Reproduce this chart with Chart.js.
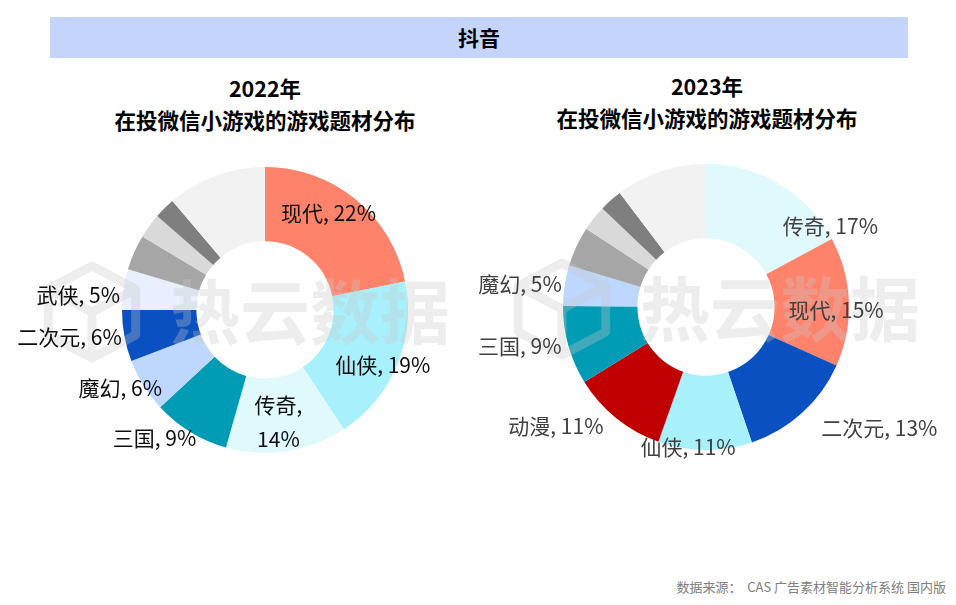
<!DOCTYPE html>
<html>
<head>
<meta charset="utf-8">
<script src="https://cdn.jsdelivr.net/npm/chart.js@4"></script>
<style>
    body { margin: 0; width: 956px; height: 605px; background: #fff; position: relative; overflow: hidden;
           font-family: "Noto Sans CJK SC", "Noto Sans", sans-serif; }
    .top-bar { position: absolute; left: 50px; top: 17px; width: 858px; height: 41px; background: #c5d4fb;
               text-align: center; line-height: 41px; font-size: 21px; font-weight: 700; color: #000; }
    .chart-title { position: absolute; width: 478px; text-align: center; font-size: 21.5px; font-weight: 700;
                   color: #000; line-height: 32px; }
    .chart-box { position: absolute; top: 140px; width: 478px; height: 340px; }
    .source { position: absolute; right: 10px; top: 577px; font-size: 13px; color: #808080; }
</style>
</head>
<body>
<div class="top-bar">抖音</div>
<div class="chart-title" style="left:26px; top:72px;">2022年<br>在投微信小游戏的游戏题材分布</div>
<div class="chart-title" style="left:468px; top:70px;">2023年<br>在投微信小游戏的游戏题材分布</div>
<div class="chart-box" style="left:0;"><canvas id="chart2022"></canvas></div>
<div class="chart-box" style="left:478px;"><canvas id="chart2023"></canvas></div>
<div class="source">数据来源：&nbsp; CAS 广告素材智能分析系统 国内版</div>

<script>
    // 2022 share of game themes (%)
    const cats2022 = ['现代', '仙侠', '传奇', '三国', '魔幻', '二次元', '武侠', '其他1', '其他2', '其他3', '其他4'];
    const vals2022 = [21.8, 18.9, 13.7, 8.7, 6.1, 5.8, 4.6, 4.0, 2.8, 2.4, 11.2];

    // 2023 share of game themes (%)
    const cats2023 = ['传奇', '现代', '二次元', '仙侠', '动漫', '三国', '魔幻', '其他1', '其他2', '其他3', '其他4'];
    const vals2023 = [17.1, 14.6, 13.1, 10.6, 10.8, 8.9, 4.6, 4.5, 2.9, 2.6, 10.3];

    const themeColors = {
        '现代': '#ff826b', '仙侠': '#a8f0fc', '传奇': '#e0f9fd', '三国': '#009cb5',
        '魔幻': '#bdd7fe', '二次元': '#0a50c0', '武侠': '#e8f0ff', '动漫': '#c00000',
        '其他1': '#a6a6a6', '其他2': '#d9d9d9', '其他3': '#7f7f7f', '其他4': '#f2f2f2'
    };

    // label placement: angle shift (deg) from slice middle, distance as share of outer radius
    const labelPos2022 = [
        { da: -6, r: 0.81 }, { da: 2.7, r: 0.91 }, { da: 2, r: 0.79, wrap: true },
        { da: 9.4, r: 1.18 }, { da: 3.5, r: 1.15 }, { da: 2.5, r: 1.38 }, { da: -3.7, r: 1.31 }
    ];
    const labelPos2023 = [
        { da: 26, r: 1.04 }, { da: 3.6, r: 0.91 }, { da: -12.7, r: 1.48 }, { da: 6.9, r: 0.99 },
        { da: 12.7, r: 1.34 }, { da: 3.9, r: 1.33 }, { da: -1.6, r: 1.31 }
    ];

    const watermarkPlugin = {
        id: 'watermark',
        afterDatasetsDraw(chart, args, opts) {
            const ctx = chart.ctx;
            const arc = chart.getDatasetMeta(0).data[0];
            const tx = arc.x + opts.textLeft;
            const ty = arc.y + 2;
            ctx.save();
            ctx.fillStyle = 'rgba(200, 200, 200, 0.32)';
            ctx.strokeStyle = 'rgba(200, 200, 200, 0.32)';
            ctx.font = '700 70px "Noto Sans CJK SC"';
            ctx.textAlign = 'left';
            ctx.textBaseline = 'middle';
            ctx.fillText('热云数据', tx, ty);

            // rough cube logo
            const cx = tx - 78, cy = ty, s = 46;
            ctx.lineWidth = 9;
            ctx.lineJoin = 'round';
            ctx.beginPath();
            ctx.moveTo(cx, cy - s);
            ctx.lineTo(cx + s * 0.95, cy - s * 0.5);
            ctx.lineTo(cx + s * 0.95, cy + s * 0.5);
            ctx.lineTo(cx, cy + s);
            ctx.lineTo(cx - s * 0.95, cy + s * 0.5);
            ctx.lineTo(cx - s * 0.95, cy - s * 0.5);
            ctx.closePath();
            ctx.moveTo(cx - s * 0.95, cy - s * 0.5);
            ctx.lineTo(cx, cy);
            ctx.lineTo(cx + s * 0.95, cy - s * 0.5);
            ctx.moveTo(cx, cy);
            ctx.lineTo(cx, cy + s);
            ctx.stroke();
            ctx.restore();
        }
    };

    const sliceLabelPlugin = {
        id: 'sliceLabels',
        afterDatasetsDraw(chart, args, opts) {
            const ctx = chart.ctx;
            const meta = chart.getDatasetMeta(0);
            const data = chart.data.datasets[0].data;
            const total = data.reduce((a, b) => a + b, 0);
            ctx.save();
            ctx.font = '21px "Noto Sans CJK SC"';
            ctx.fillStyle = opts.color;
            ctx.textAlign = 'center';
            ctx.textBaseline = 'middle';
            meta.data.forEach((arc, i) => {
                const pos = opts.pos[i];
                if (!pos) return;
                const mid = (arc.startAngle + arc.endAngle) / 2 + pos.da * Math.PI / 180;
                const x = arc.x + Math.cos(mid) * arc.outerRadius * pos.r;
                const y = arc.y + Math.sin(mid) * arc.outerRadius * pos.r;
                const name = chart.data.labels[i];
                const pct = Math.round(data[i] / total * 100) + '%';
                if (pos.wrap) {
                    ctx.fillText(name + ',', x, y - 17);
                    ctx.fillText(pct, x, y + 17);
                } else {
                    ctx.fillText(name + ', ' + pct, x, y);
                }
            });
            ctx.restore();
        }
    };

    const makeDoughnut = (id, cats, vals, padding, labelPos, labelColor, textLeft) => {
        return new Chart(document.getElementById(id), {
            type: 'doughnut',
            data: {
                labels: cats,
                datasets: [{
                    data: vals,
                    backgroundColor: cats.map(c => themeColors[c]),
                    borderWidth: 0
                }]
            },
            options: {
                responsive: true,
                maintainAspectRatio: false,
                animation: false,
                cutout: '48%',
                layout: { padding: padding },
                plugins: {
                    legend: { display: false },
                    tooltip: { enabled: false },
                    watermark: { textLeft: textLeft },
                    sliceLabels: { pos: labelPos, color: labelColor }
                }
            },
            plugins: [watermarkPlugin, sliceLabelPlugin]
        });
    };

    makeDoughnut('chart2022', cats2022, vals2022,
        { left: 122, right: 70, top: 27, bottom: 27 }, labelPos2022, '#0d0d0d', -95);
    makeDoughnut('chart2023', cats2023, vals2023,
        { left: 85, right: 107, top: 24, bottom: 30 }, labelPos2023, '#404040', -66);
</script>
</body>
</html>
